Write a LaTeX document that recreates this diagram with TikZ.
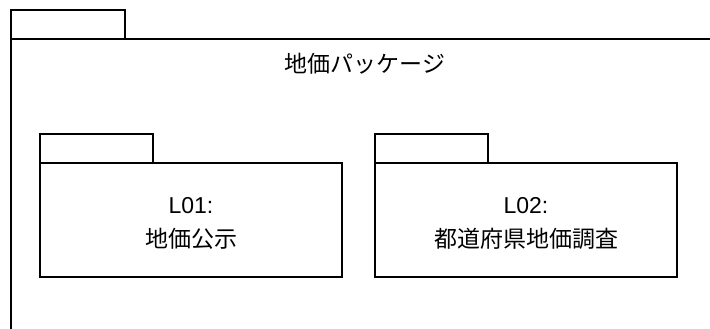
\documentclass[tikz,border=0pt]{standalone}
\usepackage{fontspec}
\setmainfont{Liberation Sans}
\newfontfamily\cjk{Noto Sans CJK JP}
\usetikzlibrary{positioning}

\begin{document}
\begin{tikzpicture}[
	x=1pt, y=-1pt,
	every node/.style = {font=\fontsize{23}{34}\selectfont, align=center},
	pkg/.style = {draw, line width=1.6pt, inner sep=0pt, outer sep=0pt, minimum width=302pt, minimum height=114pt},
	pkgtab/.style = {draw, line width=1.6pt, inner sep=0pt, outer sep=0pt, minimum width=113pt, minimum height=29pt, anchor=south west},
	pkgname/.style = {yshift=-3.5pt}
	]
	\useasboundingbox (0,0) rectangle (710,329);
	\clip (0,0) rectangle (710,329);

	% outer package, cut off at the right and bottom
	\node[pkg, minimum width=708pt, minimum height=400pt, anchor=north west] (chika) at (11,39) {};
	\node[pkgtab, minimum width=114pt] (chikatab) at (chika.north west) {};
	\node (title) at (365,64) {\cjk 地価パッケージ};

	% inner packages
	\node[pkg, anchor=north west] (l01) at (40,163) {};
	\node[pkgtab] (l01tab) at (l01.north west) {};
	\node[pkgname] (l01name) at (l01.center) {L01:\\{\cjk 地価公示}};

	\node[pkg, anchor=north west] (l02) at (375,163) {};
	\node[pkgtab] (l02tab) at (l02.north west) {};
	\node[pkgname] (l02name) at (l02.center) {L02:\\{\cjk 都道府県地価調査}};

\end{tikzpicture}
\end{document}
